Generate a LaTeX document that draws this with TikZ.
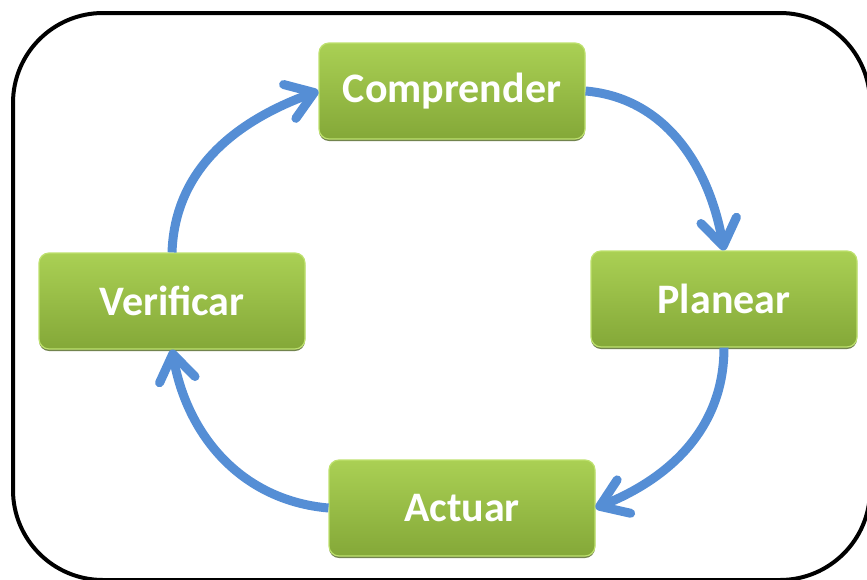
\documentclass[tikz,border=0pt]{standalone}
\usepackage{fontspec}
\setmainfont{Carlito}
\usetikzlibrary{arrows.meta, shadows}
\definecolor{flecha}{RGB}{85,142,213}
\definecolor{verdeclaro}{RGB}{170,208,84}
\definecolor{verdeoscuro}{RGB}{132,168,56}
\definecolor{verdeborde}{RGB}{190,225,110}
\begin{document}
\begin{tikzpicture}[x=1pt,y=-1pt,
        paso/.style={rounded corners=10pt,minimum width=266pt,minimum height=96pt,
            top color=verdeclaro,bottom color=verdeoscuro,draw=verdeborde,line width=1.2pt,
            drop shadow={shadow xshift=0pt,shadow yshift=-2pt,opacity=0.8,fill=verdeoscuro!60!black},
            text=white,font=\fontsize{42}{50}\selectfont\bfseries},
        flechita/.style={draw=flecha,line width=9pt,
            -{Straight Barb[length=26pt,width=36pt,round]}}]
    \clip (0,0) rectangle (867,579);
    \draw[line width=4pt,rounded corners=90pt] (13,13) rectangle (870,580);
    \node[paso] (comp) at (452,91) {Comprender};
    \node[paso] (plan) at (724,299) {Planear};
    \node[paso] (verif) at (172,301) {Verificar};
    \node[paso] (act) at (462,508) {Actuar};
    \draw[flechita] (verif.north) to[out=88,in=200] (comp.west);
    \draw[flechita] (comp.east) to[out=-5,in=100] (plan.north);
    \draw[flechita] (plan.south) to[out=-90,in=22] (act.east);
    \draw[flechita] (act.west) to[out=175,in=-80] (verif.south);
\end{tikzpicture}
\end{document}
